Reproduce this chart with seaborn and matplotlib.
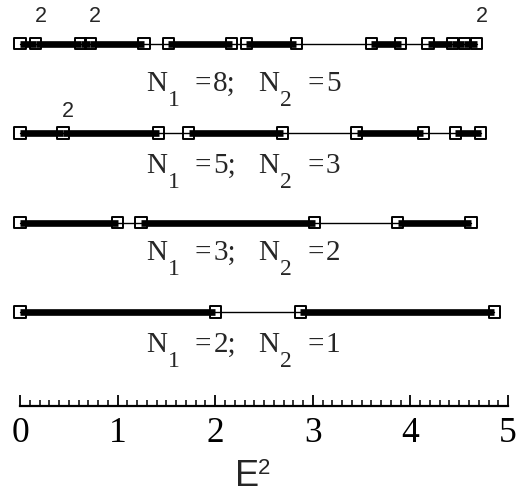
import matplotlib
matplotlib.use("Agg")
import matplotlib.pyplot as plt
from matplotlib.font_manager import FontProperties
from matplotlib.ticker import FixedLocator
import pandas as pd
import seaborn as sns

# Chain composition for each row, bottom row first
n1 = [2, 3, 5, 8]
n2 = [1, 2, 3, 5]

# Allowed E^2 bands (start, end) for each row
bands_row0 = [(0.00, 2.00), (2.87, 4.86)]
bands_row1 = [(0.00, 1.00), (1.24, 3.02), (3.87, 4.62)]
bands_row2 = [(0.00, 0.44), (0.44, 1.42), (1.73, 2.69), (3.45, 4.13), (4.46, 4.72)]
bands_row3 = [(0.00, 0.16), (0.16, 0.62), (0.62, 0.72), (0.72, 1.27), (1.52, 2.17),
              (2.32, 2.83), (3.60, 3.90), (4.18, 4.43), (4.43, 4.55), (4.55, 4.68)]

# Doubly degenerate band edges
degenerate_rows = [3, 3, 3, 2]
degenerate_e2 = [0.16, 0.72, 4.68, 0.44]
degenerate_text = ["2", "2", "2", "2"]

x_ticks = [0, 1, 2, 3, 4, 5]
x_tick_labels = ["0", "1", "2", "3", "4", "5"]

# ---- layout ----
label_drop = [0.45, 0.42, 0.45, 0.53]   # caption baseline below its row (row units)
label_x = 2.285
axis_y = -1.05
degenerate_lift = [15.5, 15.5, 15.5, 11.5]  # points above the row line
SERIF = "Liberation Serif"
SANS = "Liberation Sans"

sns.set_theme(style="white")
plt.rcParams["font.family"] = [SERIF, "DejaVu Serif"]

all_bands = [bands_row0, bands_row1, bands_row2, bands_row3]
band_rec, span_rec, edge_rec = [], [], []
for r, bands in enumerate(all_bands):
    for b, (lo, hi) in enumerate(bands):
        key = f"{r}-{b}"
        band_rec.append({"E": lo, "row": r, "band": key})
        band_rec.append({"E": hi, "row": r, "band": key})
    edges = sorted({v for pair in bands for v in pair})
    span_rec.append({"E": edges[0], "row": r})
    span_rec.append({"E": edges[-1], "row": r})
    edge_rec.extend({"E": v, "row": r} for v in edges)

band_df = pd.DataFrame(band_rec)
span_df = pd.DataFrame(span_rec)
edge_df = pd.DataFrame(edge_rec)

fig = plt.figure(figsize=(5.18, 4.93), dpi=100)
fig.patch.set_facecolor("white")
ax = fig.add_axes([0, 0, 1, 1])
ax.set_facecolor("white")

# thin line across the whole spectrum (gaps)
sns.lineplot(data=span_df, x="E", y="row", units="row", estimator=None,
             color="black", linewidth=1.0, sort=False, legend=False, ax=ax)
# thick segments for the bands
sns.lineplot(data=band_df, x="E", y="row", units="band", estimator=None,
             color="black", linewidth=4.8, sort=False, legend=False, ax=ax,
             solid_capstyle="butt")
# open squares at band edges
sns.scatterplot(data=edge_df, x="E", y="row", marker="s", s=64,
                facecolor="none", edgecolor="black", linewidth=1.4,
                zorder=3, legend=False, ax=ax)

for r, e, t, lift in zip(degenerate_rows, degenerate_e2, degenerate_text, degenerate_lift):
    ax.annotate(t, (e, r), xytext=(3.6, lift), textcoords="offset points",
                ha="center", va="baseline", fontsize=15.5, family=SANS)

renderer = fig.canvas.get_renderer()


def text_width_pt(s, size):
    w, _, _ = renderer.get_text_width_height_descent(
        s, FontProperties(family=SERIF, size=size), ismath=False)
    return w * 72 / fig.dpi


def caption(y, a, b):
    """Caption 'N1 =a;  N2 =b' with hanging subscripts, centred on label_x."""
    # (text, size in pt, vertical shift in pt, gap after in pt)
    pieces = [("N", 21, 0, 0.7), ("1", 17, -10.5, 11), ("=", 21, 0, 1.5),
              (f"{a};", 21, 0, 16), ("N", 21, 0, 0.7), ("2", 17, -10.5, 11),
              ("=", 21, 0, 1.5), (f"{b}", 21, 0, 0)]
    widths = [text_width_pt(s, size) for s, size, _, _ in pieces]
    total = sum(widths) + sum(p[3] for p in pieces)
    x = -total / 2
    for (s, size, dy, gap), w in zip(pieces, widths):
        ax.annotate(s, (label_x, y), xytext=(x, dy), textcoords="offset points",
                    ha="left", va="baseline", fontsize=size, family=SERIF)
        x += w + gap


for r, (a, b) in enumerate(zip(n1, n2)):
    caption(r - label_drop[r], a, b)

ax.set_xlim(-0.205, 5.102)
ax.set_ylim(-2.022, 3.486)
ax.set_xlabel("")
ax.set_ylabel("")
ax.set_yticks([])

ax.set_xticks(x_ticks)
ax.set_xticklabels(x_tick_labels, family=SERIF)
ax.xaxis.set_minor_locator(FixedLocator([i / 10 for i in range(51) if i % 10]))
ax.tick_params(axis="x", which="major", direction="in", length=8, width=1.3,
               labelsize=25.5, pad=8, bottom=True, color="black", labelcolor="black")
ax.tick_params(axis="x", which="minor", direction="in", length=4.5, width=1.1,
               bottom=True, color="black")
for side in ["top", "right", "left"]:
    ax.spines[side].set_visible(False)
ax.spines["bottom"].set_position(("data", axis_y))
ax.spines["bottom"].set_bounds(0, 5)
ax.spines["bottom"].set_linewidth(1.6)
ax.spines["bottom"].set_color("black")

# axis title E^2
ax.text(2.203, -1.948, "E", ha="left", va="baseline", fontsize=26,
        family=SANS)
ax.text(2.435, -1.81, "2", ha="left", va="baseline", fontsize=16,
        family=SANS)

fig.savefig("out.png", dpi=100)
